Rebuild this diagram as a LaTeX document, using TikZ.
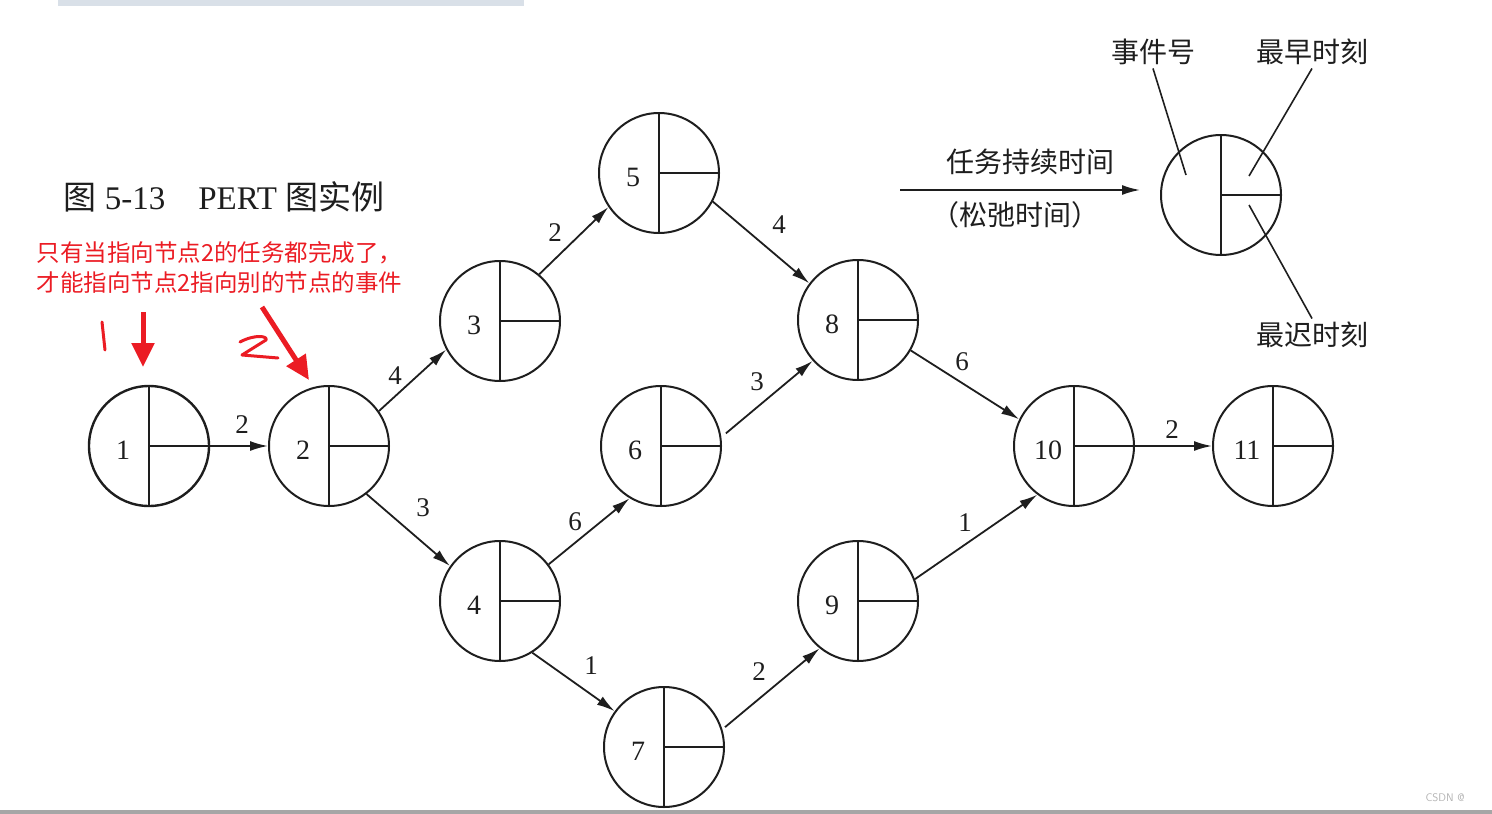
\documentclass[tikz,border=0pt]{standalone}
\usepackage{fontspec}
\setmainfont{Liberation Serif}
\newfontfamily\cjk{Noto Sans CJK SC}
\usetikzlibrary{arrows.meta}
\definecolor{inkgray}{RGB}{30,30,30}
\definecolor{notered}{RGB}{235,28,36}
\definecolor{barblue}{RGB}{217,224,232}

\tikzset{
  event/.style={circle, draw=inkgray, line width=2pt, minimum size=120pt, inner sep=0pt},
  num/.style={xshift=-26pt, yshift=-4pt, font=\fontsize{28}{30}\selectfont, text=inkgray},
  task/.style={draw=inkgray, line width=1.8pt, -{Latex[length=18pt, width=10pt]}},
  dur/.style={font=\fontsize{27}{29}\selectfont, text=inkgray},
  note/.style={font=\cjk\fontsize{28}{30}\selectfont, text=inkgray},
  redmark/.style={draw=notered, line width=5pt, -{Triangle[length=24pt, width=22pt]}}
}

\begin{document}
\begin{tikzpicture}[x=1pt, y=-1pt]
  \useasboundingbox (0,0) rectangle (1492,814);
  \fill[barblue] (58,0) rectangle (524,6);
  \fill[gray!70] (0,810) rectangle (1492,814);

  % events
  \node[event, label={[num]center:1}, line width=2.4pt] (e1) at (149,446) {};
  \node[event, label={[num]center:2}] (e2) at (329,446) {};
  \node[event, label={[num]center:3}] (e3) at (500,321) {};
  \node[event, label={[num]center:4}] (e4) at (500,601) {};
  \node[event, label={[num]center:5}] (e5) at (659,173) {};
  \node[event, label={[num]center:6}] (e6) at (661,446) {};
  \node[event, label={[num]center:7}] (e7) at (664,747) {};
  \node[event, label={[num]center:8}] (e8) at (858,320) {};
  \node[event, label={[num]center:9}] (e9) at (858,601) {};
  \node[event, label={[num]center:10}] (e10) at (1074,446) {};
  \node[event, label={[num]center:11}] (e11) at (1273,446) {};
  \node[event] (key) at (1221,195) {};

  \foreach \n in {e1,e2,e3,e4,e5,e6,e7,e8,e9,e10,e11,key}
    \draw[inkgray, line width=2pt] (\n.north) -- (\n.south) (\n.center) -- (\n.east);

  % tasks
  \draw[task] (e1.east) -- (e2.west);
  \draw[task] (e2.35) -- (e3.208);
  \draw[task] (e2.308) -- (e4.145);
  \draw[task] (e3.50) -- (e5.214);
  \draw[task] (e5.332) -- (e8.143);
  \draw[task] (e4.37) -- (e6.239);
  \draw[task] ([shift={(5,-1)}]e6.11) -- (e8.222);
  \draw[task] (e4.302) -- (e7.144);
  \draw[task] ([shift={(3,-1)}]e7.18) -- (e9.231);
  \draw[task] (e8.330) -- (e10.154);
  \draw[task] (e9.21) -- (e10.233);
  \draw[task] (e10.east) -- (e11.west);

  \node[dur] (d12) at (242,425) {2};
  \node[dur] (d23) at (395,376) {4};
  \node[dur] (d24) at (423,508) {3};
  \node[dur] (d35) at (555,233) {2};
  \node[dur] (d58) at (779,225) {4};
  \node[dur] (d46) at (575,522) {6};
  \node[dur] (d68) at (757,382) {3};
  \node[dur] (d47) at (591,666) {1};
  \node[dur] (d79) at (759,672) {2};
  \node[dur] (d810) at (962,362) {6};
  \node[dur] (d910) at (965,523) {1};
  \node[dur] (d1011) at (1172,430) {2};

  % title
  \node[font=\fontsize{33}{35}\selectfont, text=inkgray] (title) at (224,197)
    {{\cjk 图} 5-13\quad PERT {\cjk 图实例}};

  % key
  \coordinate (keyin) at (900,190);
  \coordinate (keyout) at (1140,190);
  \draw[task] (keyin) -- (keyout);
  \node[note] (keydur) at (1030,162) {任务持续时间};
  \node[note] (keyslack) at (1015,215) {（松弛时间）};
  \node[note] (keyno) at (1153,52) {事件号};
  \node[note] (keyearly) at (1312,52) {最早时刻};
  \node[note] (keylate) at (1312,335) {最迟时刻};
  \coordinate (pno) at (1186,175);
  \coordinate (pearly) at (1249,176);
  \coordinate (plate) at (1249,205);
  \draw[inkgray, line width=1.6pt] (keyno.south) -- (pno);
  \draw[inkgray, line width=1.6pt] (keyearly.south) -- (pearly);
  \draw[inkgray, line width=1.6pt] (keylate.north) -- (plate);

  % red notes
  \node[font=\cjk\fontsize{23.5}{30}\selectfont, text=notered, align=left, anchor=west] (remark) at (33,268)
    {只有当指向节点2的任务都完成了，\\才能指向节点2指向别的节点的事件};
  \coordinate (r1a) at (143,312);
  \coordinate (r1b) at (143,367);
  \coordinate (r2a) at (262,307);
  \coordinate (r2b) at (309,380);
  \draw[redmark] (r1a) -- (r1b);
  \draw[redmark] (r2a) -- (r2b);
  \draw[notered, line width=3pt, line cap=round] (102,322) -- (105,350);
  \draw[notered, line width=3pt, line cap=round, line join=round]
    (240,342) .. controls (255,334) and (268,336) .. (266,340) -- (242,355) -- (278,358);

  \node[font=\sffamily\fontsize{11}{12}\selectfont, text=gray!60, anchor=west] (csdn) at (1422,798) {CSDN @};
\end{tikzpicture}
\end{document}
